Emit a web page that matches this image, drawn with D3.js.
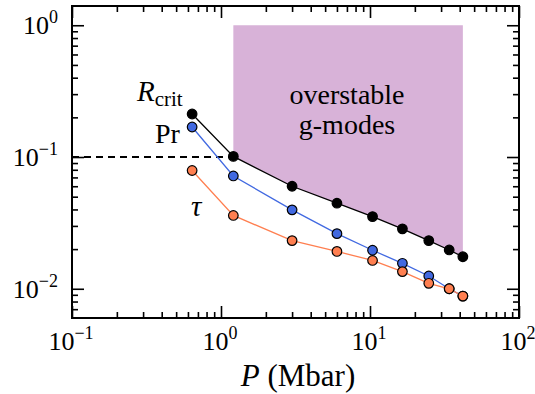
<!DOCTYPE html>
<html><head><meta charset="utf-8">
<script src="https://cdn.jsdelivr.net/npm/d3@7/dist/d3.min.js"></script>
<style>body{margin:0;background:#fff}svg{display:block}</style>
</head><body><svg id="c" width="535" height="394"></svg>
<script>
// Data
const pressure = [0.64, 1.21, 3.0, 6.0, 10.4, 16.5, 24.8, 34, 42];
const Rcrit    = [0.212, 0.101, 0.060, 0.0446, 0.0353, 0.0285, 0.0232, 0.0197, 0.0175];
const Pr       = [0.169, 0.0718, 0.0397, 0.0262, 0.0196, 0.0156, 0.0125, 0.0100, 0.0088];
const tau      = [0.079, 0.036, 0.0232, 0.0192, 0.0164, 0.0135, 0.0110, 0.0100, 0.0088];
const xMajor = [0.1, 1, 10, 100];
const xMajorExp = ["\u22121", "0", "1", "2"];
const yMajor = [0.01, 0.1, 1];
const yMajorExp = ["\u22122", "\u22121", "0"];
const criticalPr = 0.1;

const FONT = '"Liberation Serif"';
const L = 72, R = 519, T = 6, B = 318;
const svg = d3.select("#c");
const x = d3.scaleLog().domain([0.1, 100]).range([L, R]);
const y = d3.scaleLog().domain([0.006, 1.4]).range([B, T]);

function minors(lo, hi) {
  const out = [];
  for (let e = Math.floor(Math.log10(lo)); e <= Math.ceil(Math.log10(hi)); e++)
    for (let m = 2; m <= 9; m++) { const v = m * Math.pow(10, e); if (v > lo && v < hi) out.push(v); }
  return out;
}
const xMinor = minors(0.1, 100), yMinor = minors(0.006, 1.4);

function txt(xp, yp, size) {
  return svg.append("text").attr("x", xp).attr("y", yp).attr("font-size", size)
    .style("font-family", FONT).attr("fill", "#000");
}

// overstable region
const regionIdx = d3.range(1, pressure.length);
const area = d3.area().x(i => x(pressure[i])).y0(i => y(Rcrit[i])).y1(() => y(1));
svg.append("path").attr("d", area(regionIdx)).attr("fill", "#d8b2d8");

txt(347, 104, 28).attr("text-anchor", "middle").text("overstable");
txt(347, 134, 28).attr("text-anchor", "middle").text("g-modes");

// dashed line
svg.append("line").attr("x1", x(0.1)).attr("x2", x(pressure[1])).attr("y1", y(criticalPr)).attr("y2", y(criticalPr))
  .attr("stroke", "#000").attr("stroke-width", 1.8).attr("stroke-dasharray", "7,5");

function addAxis(axisFn, scale, vals, size, transform) {
  const g = svg.append("g").attr("transform", transform)
    .call(axisFn(scale).tickValues(vals).tickSize(size).tickFormat(""));
  g.select(".domain").remove();
  g.selectAll(".tick line").attr("stroke", "#000").attr("stroke-width", 1.6);
}
addAxis(d3.axisBottom, x, xMajor, -12, `translate(0,${B})`);
addAxis(d3.axisBottom, x, xMinor, -6, `translate(0,${B})`);
addAxis(d3.axisTop, x, xMajor, -12, `translate(0,${T})`);
addAxis(d3.axisTop, x, xMinor, -6, `translate(0,${T})`);
addAxis(d3.axisLeft, y, yMajor, -12, `translate(${L},0)`);
addAxis(d3.axisLeft, y, yMinor, -6, `translate(${L},0)`);
addAxis(d3.axisRight, y, yMajor, -12, `translate(${R},0)`);
addAxis(d3.axisRight, y, yMinor, -6, `translate(${R},0)`);

svg.append("rect").attr("x", L).attr("y", T).attr("width", R - L).attr("height", B - T)
  .attr("fill", "none").attr("stroke", "#000").attr("stroke-width", 2);

// tick labels
xMajor.forEach((v, i) => {
  const t = txt(x(v) - 1, 350, 26).attr("text-anchor", "middle");
  t.append("tspan").text("10");
  t.append("tspan").attr("font-size", 18).attr("dy", -11).text(xMajorExp[i]);
});
yMajor.forEach((v, i) => {
  const t = txt(58, y(v) + 9, 26).attr("text-anchor", "end");
  t.append("tspan").text("10");
  t.append("tspan").attr("font-size", 18).attr("dy", -11).text(yMajorExp[i]);
});

// axis label
const xl = txt(298, 386, 31).attr("text-anchor", "middle");
xl.append("tspan").attr("font-style", "italic").text("P");
xl.append("tspan").text(" (Mbar)");

// series (drawn black, blue, orange so orange sits on top)
const series = [
  {vals: Rcrit, color: "#000000"},
  {vals: Pr, color: "#4169e1"},
  {vals: tau, color: "#ff7f50"}
];
series.forEach(s => {
  const line = d3.line().x((d, i) => x(pressure[i])).y(d => y(d));
  svg.append("path").attr("d", line(s.vals)).attr("fill", "none").attr("stroke", s.color).attr("stroke-width", 1.3);
  svg.append("g").selectAll("circle").data(s.vals).join("circle")
    .attr("cx", (d, i) => x(pressure[i])).attr("cy", d => y(d)).attr("r", 4.8)
    .attr("fill", s.color).attr("stroke", "#000").attr("stroke-width", 1.2);
});

// series labels
const rl = txt(137, 101, 29);
rl.append("tspan").attr("font-style", "italic").text("R");
rl.append("tspan").attr("font-size", 21).attr("dy", 5).text("crit");
txt(155, 143, 28).text("Pr");
txt(191, 216, 29).attr("font-style", "italic").text("\u03c4");
</script></body></html>
